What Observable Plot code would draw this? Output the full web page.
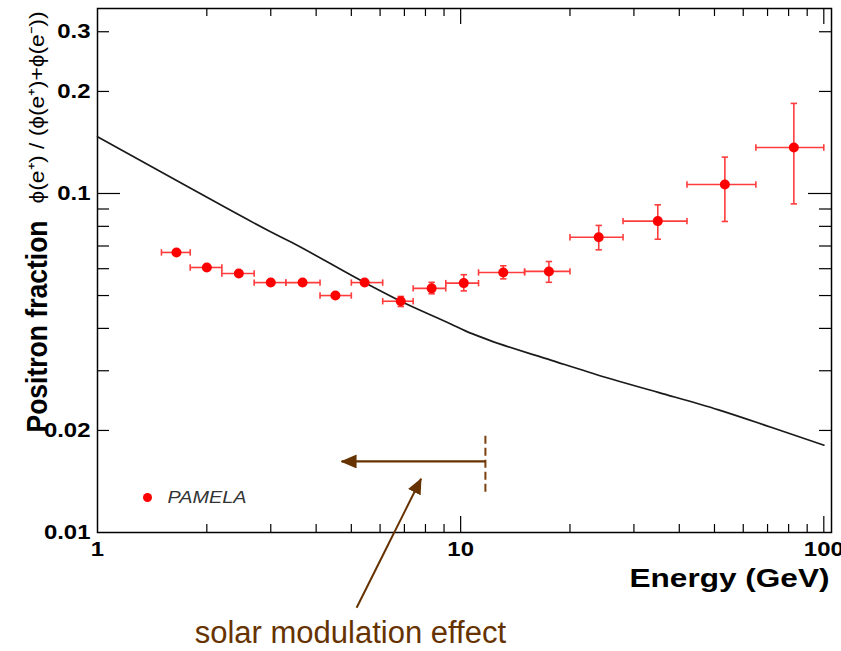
<!DOCTYPE html>
<html><head><meta charset="utf-8">
<script src="https://cdn.jsdelivr.net/npm/d3@7"></script>
<script src="https://cdn.jsdelivr.net/npm/@observablehq/plot@0.6"></script>
<style>body{margin:0;background:#fff;} svg{display:block}</style>
</head><body><div id="chart"></div>
<script>
// PAMELA positron fraction data
const binCenter = [1.65, 2.0, 2.45, 3.0, 3.67, 4.52, 5.44, 6.84, 8.32, 10.2, 13.1, 17.5, 24.0, 34.9, 53.4, 82.7];
const binLow    = [1.5, 1.8, 2.2, 2.7, 3.3, 4.1, 5.0, 6.1, 7.4, 9.1, 11.2, 15.0, 20.0, 28.0, 42.0, 65.0];
const binHigh   = [1.8, 2.2, 2.7, 3.3, 4.1, 5.0, 6.1, 7.4, 9.1, 11.2, 15.0, 20.0, 28.0, 42.0, 65.0, 100];
const fraction  = [0.0670, 0.0605, 0.0581, 0.0546, 0.0546, 0.0500, 0.0546, 0.0481, 0.0525, 0.0544, 0.0585, 0.0589, 0.0743, 0.0829, 0.1063, 0.1367];
const fracLow   = [0.0662, 0.0598, 0.0574, 0.0539, 0.0539, 0.0494, 0.0539, 0.0464, 0.0506, 0.0516, 0.0560, 0.0547, 0.0682, 0.0733, 0.0827, 0.0932];
const fracHigh  = [0.0678, 0.0612, 0.0588, 0.0553, 0.0553, 0.0506, 0.0553, 0.0497, 0.0547, 0.0576, 0.0612, 0.0630, 0.0805, 0.0926, 0.1280, 0.1844];

// secondary-production model curve
const curveE = [1, 1.815, 2.95, 3.42, 5.44, 6.84, 9.45, 10.27, 11.92, 17.8, 25, 35, 51.3, 71.9, 100];
const curveF = [0.147, 0.1032, 0.0778, 0.0718, 0.0546, 0.0481, 0.0411, 0.0394, 0.0370, 0.0322, 0.0287, 0.0259, 0.0230, 0.0204, 0.0181];

// tick values and labels
const xMinorTicks = [2,3,4,5,6,7,8,9,20,30,40,50,60,70,80,90];
const xMajorTicks = [10, 100];
const xTickLabels = [1, 10, 100];
const yMinorTicks = [0.02,0.03,0.04,0.05,0.06,0.07,0.08,0.09,0.2,0.3];
const yMajorTicks = [0.1];
const yTickLabels = [0.01, 0.02, 0.1, 0.2, 0.3];

// annotation (data coordinates)
const modArrow   = {from: 11.7, to: 4.7, f: 0.0162};
const modCut     = {e: 11.7, f1: 0.0193, f2: 0.0129};
const pointer    = {e1: 5.17, f1: 0.0060, e2: 7.78, f2: 0.0144};
const noteText   = ["solar modulation effect"];
const noteX      = 4.97;
const legendText = ["PAMELA"];

const W = 841, H = 651, mL = 97, mR = 10, mT = 8, mB = 119;
const frameW = W - mL - mR, frameH = H - mT - mB;
const brown = "#663300";
const red = "#ff0000";
const barRed = "#ff3c3c";

const vbar = {draw(ctx, size){ const r = Math.sqrt(size/Math.PI); ctx.moveTo(0,-r); ctx.lineTo(0,r); }};
const hbar = {draw(ctx, size){ const r = Math.sqrt(size/Math.PI); ctx.moveTo(-r,0); ctx.lineTo(r,0); }};

const points = binCenter.map((e,i)=>({e, f: fraction[i], lo: binLow[i], hi: binHigh[i], flo: fracLow[i], fhi: fracHigh[i]}));
const curve = curveE.map((e,i)=>({e, f: curveF[i]}));
const fmt = d => String(d);

const plot = Plot.plot({
  width: W, height: H,
  marginLeft: mL, marginRight: mR, marginTop: mT, marginBottom: mB,
  x: {type: "log", domain: [1, 105], axis: null},
  y: {type: "log", domain: [0.01, 0.3513], axis: null},
  style: {fontFamily: "'Liberation Sans', Arial, Helvetica, sans-serif", background: "#fff", color: "#000", overflow: "visible"},
  marks: [
    // ticks: left / right
    Plot.tickY(yMinorTicks, {y: d=>d, insetRight: frameW - 12, stroke: "#000", strokeWidth: 1.2}),
    Plot.tickY(yMajorTicks, {y: d=>d, insetRight: frameW - 23, stroke: "#000", strokeWidth: 1.2}),
    Plot.tickY(yMinorTicks, {y: d=>d, insetLeft: frameW - 12, stroke: "#000", strokeWidth: 1.2}),
    Plot.tickY(yMajorTicks, {y: d=>d, insetLeft: frameW - 23, stroke: "#000", strokeWidth: 1.2}),
    // ticks: bottom / top
    Plot.tickX(xMinorTicks, {x: d=>d, insetTop: frameH - 8, stroke: "#000", strokeWidth: 1.2}),
    Plot.tickX(xMajorTicks, {x: d=>d, insetTop: frameH - 16, stroke: "#000", strokeWidth: 1.2}),
    Plot.tickX(xMinorTicks, {x: d=>d, insetBottom: frameH - 8, stroke: "#000", strokeWidth: 1.2}),
    Plot.tickX(xMajorTicks, {x: d=>d, insetBottom: frameH - 16, stroke: "#000", strokeWidth: 1.2}),
    Plot.frame({stroke: "#000", strokeWidth: 1.5}),
    // tick labels
    Plot.text(yTickLabels, {y: d=>d, text: fmt, frameAnchor: "left", dx: -7, textAnchor: "end", lineAnchor: "middle", fontWeight: "bold", fontSize: 21, className: "stretch"}),
    Plot.text(xTickLabels, {x: d=>d, text: fmt, frameAnchor: "bottom", dy: 17, textAnchor: "middle", lineAnchor: "middle", fontWeight: "bold", fontSize: 21, className: "stretch"}),
    // axis titles
    Plot.text(["Energy (GeV)"], {frameAnchor: "bottom-right", dx: -2, dy: 46, textAnchor: "end", lineAnchor: "middle", fontWeight: "bold", fontSize: 26, className: "fitEnergy"}),
    Plot.text(["Positron fraction"], {frameAnchor: "top-left", dx: -60, dy: 318, rotate: -90, textAnchor: "middle", lineAnchor: "middle", fontWeight: "bold", fontSize: 29, className: "fitPos"}),
    Plot.text(["\u03D5(e\u207A) / (\u03D5(e\u207A)+\u03D5(e\u207B))"], {frameAnchor: "top-left", dx: -60, dy: 99, rotate: -90, textAnchor: "middle", lineAnchor: "middle", fontSize: 21, className: "fitFormula"}),
    // model curve
    Plot.line(curve, {x: "e", y: "f", stroke: "#1a1a1a", strokeWidth: 1.7, curve: "monotone-x"}),
    // error bars
    Plot.link(points, {x1: "lo", x2: "hi", y1: "f", y2: "f", stroke: barRed, strokeWidth: 1.6}),
    Plot.link(points, {x1: "e", x2: "e", y1: "flo", y2: "fhi", stroke: barRed, strokeWidth: 1.6}),
    Plot.dot(points, {x: "lo", y: "f", symbol: vbar, r: 3.2, stroke: barRed, strokeWidth: 1.6}),
    Plot.dot(points, {x: "hi", y: "f", symbol: vbar, r: 3.2, stroke: barRed, strokeWidth: 1.6}),
    Plot.dot(points, {x: "e", y: "flo", symbol: hbar, r: 3.2, stroke: barRed, strokeWidth: 1.6}),
    Plot.dot(points, {x: "e", y: "fhi", symbol: hbar, r: 3.2, stroke: barRed, strokeWidth: 1.6}),
    Plot.dot(points, {x: "e", y: "f", r: 5, fill: red, stroke: null}),
    // legend
    Plot.dot(legendText, {frameAnchor: "bottom-left", dx: 50, dy: -35, r: 4.5, fill: red}),
    Plot.text(legendText, {frameAnchor: "bottom-left", dx: 70, dy: -35, textAnchor: "start", lineAnchor: "middle", fontStyle: "italic", fontSize: 16, fill: "#333", className: "fitLegend"}),
    // solar modulation annotation
    Plot.link([modCut], {x1: "e", x2: "e", y1: "f1", y2: "f2", stroke: "#7a3f0a", strokeWidth: 2, strokeDasharray: "8,4"}),
    Plot.link([modArrow], {x1: "from", x2: "to", y1: "f", y2: "f", stroke: brown, strokeWidth: 2.2, className: "brown-arrow"}),
    Plot.link([pointer], {x1: "e1", y1: "f1", x2: "e2", y2: "f2", stroke: brown, strokeWidth: 2, className: "brown-arrow"}),
    Plot.text(noteText, {x: noteX, frameAnchor: "bottom", dy: 101, textAnchor: "middle", lineAnchor: "middle", fontSize: 31, fill: brown})
  ]
});

document.getElementById("chart").appendChild(plot);

// filled arrowheads for the annotation arrows
const svg = d3.select(plot);
svg.insert("defs", ":first-child").append("marker")
  .attr("id", "tri").attr("viewBox", "0 0 16 14").attr("refX", 15).attr("refY", 7)
  .attr("markerUnits", "userSpaceOnUse").attr("markerWidth", 16).attr("markerHeight", 14)
  .attr("orient", "auto")
  .append("path").attr("d", "M0,0L16,7L0,14Z").attr("fill", brown);
svg.selectAll(".brown-arrow path").attr("marker-end", "url(#tri)");

// the reference picture is stretched horizontally: fit label lengths accordingly
function fit(sel, f){
  svg.selectAll(sel).each(function(){
    const len = this.getComputedTextLength();
    this.setAttribute("textLength", f(len).toFixed(1));
    this.setAttribute("lengthAdjust", "spacingAndGlyphs");
  });
}
fit(".stretch text", len => len * 1.14);
fit(".fitEnergy text", () => 200);
fit(".fitLegend text", () => 79);
fit(".fitPos text", () => 212);
fit(".fitFormula text", () => 192);
</script>
</body></html>
